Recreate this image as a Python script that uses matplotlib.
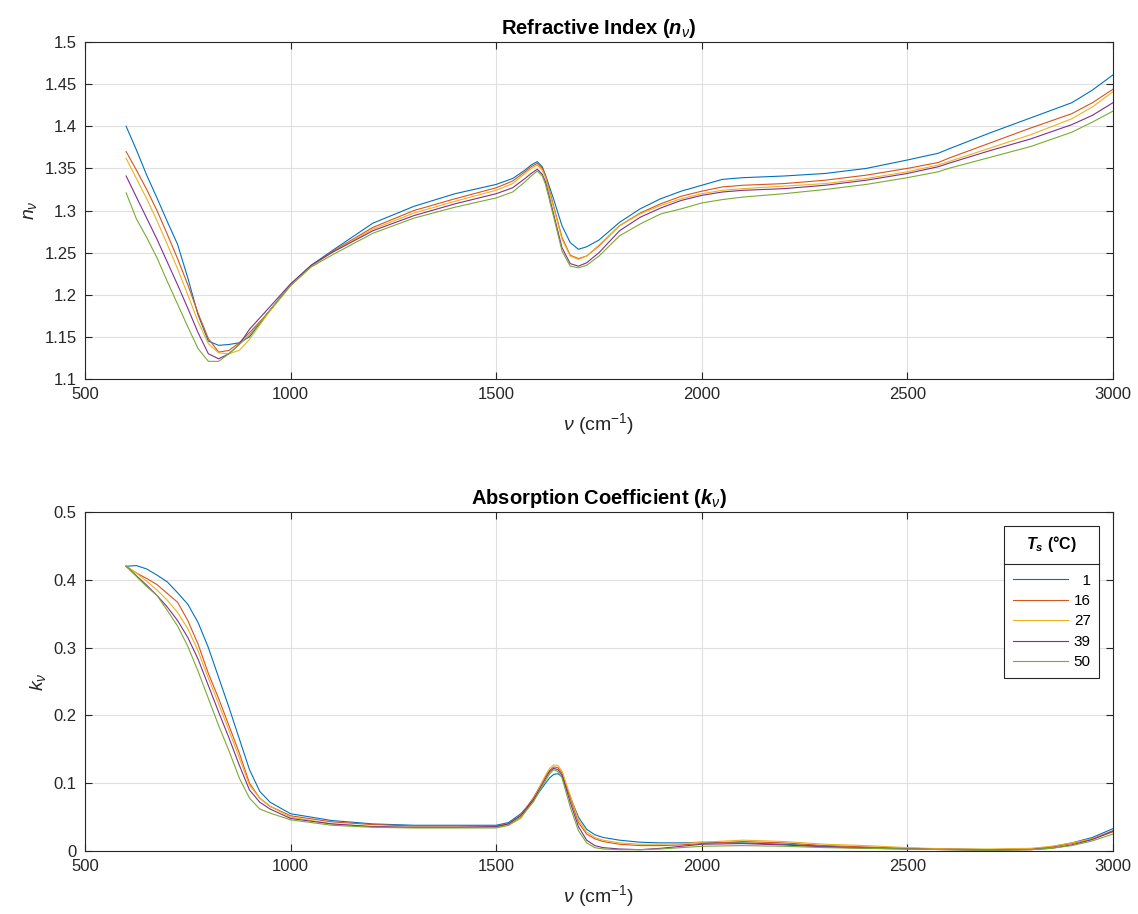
"""Refractive index and absorption coefficient spectra at several temperatures."""

import matplotlib
matplotlib.use('Agg')
import matplotlib.pyplot as plt
from matplotlib.lines import Line2D
from matplotlib.ticker import FuncFormatter


TEMPS = ['1', '16', '27', '39', '50']
COLORS = ['#0072BD', '#D95319', '#EDB120', '#7E2F8E', '#77AC30']

# refractive index
N_WAVENUM = [600, 625, 650, 675, 700, 725, 750, 775, 800, 825, 850, 875, 900,
             950, 1000, 1050, 1100, 1200, 1300, 1400, 1500, 1540, 1570, 1585,
             1600, 1612, 1620, 1640, 1660, 1680, 1700, 1720, 1750, 1800, 1850,
             1900, 1950, 2000, 2050, 2100, 2200, 2300, 2400, 2500, 2575, 2600,
             2700, 2800, 2900, 2950, 3000]
N_1 = [1.400, 1.372, 1.342, 1.315, 1.287, 1.260, 1.220, 1.176, 1.145, 1.140,
       1.141, 1.143, 1.150, 1.182, 1.212, 1.235, 1.252, 1.285, 1.305, 1.320,
       1.331, 1.338, 1.348, 1.354, 1.358, 1.352, 1.342, 1.313, 1.282, 1.262,
       1.254, 1.257, 1.265, 1.286, 1.302, 1.314, 1.323, 1.330, 1.337, 1.339,
       1.341, 1.344, 1.350, 1.360, 1.368, 1.373, 1.392, 1.410, 1.428, 1.443,
       1.461]
N_16 = [1.370, 1.348, 1.325, 1.300, 1.272, 1.243, 1.212, 1.178, 1.148, 1.132,
        1.134, 1.143, 1.155, 1.181, 1.211, 1.234, 1.251, 1.280, 1.300, 1.314,
        1.327, 1.335, 1.346, 1.352, 1.356, 1.350, 1.341, 1.305, 1.268, 1.247,
        1.243, 1.246, 1.258, 1.282, 1.297, 1.308, 1.317, 1.323, 1.328, 1.330,
        1.332, 1.336, 1.342, 1.350, 1.357, 1.362, 1.380, 1.398, 1.415, 1.428,
        1.444]
N_27 = [1.362, 1.338, 1.314, 1.288, 1.260, 1.231, 1.200, 1.168, 1.142, 1.131,
        1.130, 1.134, 1.147, 1.181, 1.211, 1.234, 1.250, 1.278, 1.297, 1.311,
        1.324, 1.332, 1.344, 1.350, 1.354, 1.348, 1.339, 1.303, 1.266, 1.246,
        1.242, 1.246, 1.259, 1.282, 1.296, 1.306, 1.314, 1.320, 1.324, 1.326,
        1.329, 1.332, 1.338, 1.346, 1.354, 1.358, 1.374, 1.390, 1.409, 1.423,
        1.441]
N_39 = [1.341, 1.316, 1.291, 1.266, 1.239, 1.212, 1.184, 1.155, 1.130, 1.124,
        1.130, 1.141, 1.159, 1.186, 1.213, 1.235, 1.250, 1.276, 1.294, 1.308,
        1.320, 1.327, 1.338, 1.344, 1.349, 1.343, 1.334, 1.295, 1.256, 1.237,
        1.234, 1.238, 1.250, 1.276, 1.292, 1.303, 1.312, 1.318, 1.322, 1.324,
        1.326, 1.330, 1.336, 1.344, 1.352, 1.356, 1.371, 1.385, 1.402, 1.413,
        1.428]
N_50 = [1.321, 1.290, 1.268, 1.244, 1.216, 1.189, 1.162, 1.136, 1.121, 1.121,
        1.130, 1.141, 1.152, 1.182, 1.211, 1.233, 1.247, 1.273, 1.291, 1.304,
        1.315, 1.322, 1.334, 1.341, 1.347, 1.341, 1.331, 1.292, 1.252, 1.234,
        1.232, 1.235, 1.246, 1.270, 1.284, 1.296, 1.302, 1.309, 1.313, 1.316,
        1.320, 1.325, 1.331, 1.339, 1.346, 1.350, 1.363, 1.376, 1.393, 1.405,
        1.418]

# absorption coefficient
K_WAVENUM = [600, 625, 650, 675, 700, 725, 750, 775, 800, 825, 850, 875, 900,
             925, 950, 1000, 1100, 1200, 1300, 1400, 1500, 1530, 1560, 1590,
             1620, 1630, 1640, 1650, 1660, 1680, 1700, 1720, 1740, 1760, 1800,
             1850, 1900, 1950, 2000, 2100, 2200, 2300, 2400, 2500, 2600, 2700,
             2800, 2850, 2900, 2950, 3000]
K_1 = [0.420, 0.421, 0.416, 0.407, 0.397, 0.381, 0.364, 0.337, 0.300, 0.256,
       0.212, 0.166, 0.120, 0.088, 0.072, 0.055, 0.045, 0.040, 0.038, 0.038,
       0.038, 0.042, 0.055, 0.075, 0.100, 0.108, 0.113, 0.114, 0.110, 0.080,
       0.050, 0.032, 0.024, 0.020, 0.016, 0.013, 0.012, 0.012, 0.013, 0.012,
       0.010, 0.007, 0.005, 0.004, 0.003, 0.002, 0.003, 0.006, 0.012, 0.020,
       0.033]
K_16 = [0.420, 0.410, 0.402, 0.393, 0.380, 0.367, 0.340, 0.305, 0.262, 0.225,
        0.185, 0.145, 0.100, 0.078, 0.066, 0.052, 0.043, 0.039, 0.037, 0.037,
        0.037, 0.040, 0.053, 0.078, 0.110, 0.119, 0.124, 0.123, 0.115, 0.078,
        0.042, 0.025, 0.018, 0.014, 0.010, 0.008, 0.008, 0.009, 0.011, 0.014,
        0.012, 0.008, 0.006, 0.004, 0.003, 0.002, 0.003, 0.006, 0.011, 0.018,
        0.030]
K_27 = [0.420, 0.410, 0.398, 0.385, 0.370, 0.352, 0.328, 0.295, 0.255, 0.217,
        0.178, 0.138, 0.097, 0.078, 0.066, 0.050, 0.040, 0.036, 0.035, 0.035,
        0.035, 0.038, 0.048, 0.075, 0.112, 0.122, 0.127, 0.126, 0.118, 0.082,
        0.046, 0.028, 0.020, 0.016, 0.012, 0.010, 0.010, 0.011, 0.013, 0.016,
        0.014, 0.010, 0.008, 0.005, 0.003, 0.003, 0.004, 0.007, 0.012, 0.018,
        0.028]
K_39 = [0.420, 0.406, 0.392, 0.377, 0.360, 0.340, 0.315, 0.283, 0.244, 0.205,
        0.167, 0.127, 0.090, 0.072, 0.062, 0.048, 0.040, 0.036, 0.035, 0.035,
        0.036, 0.040, 0.052, 0.075, 0.107, 0.117, 0.122, 0.120, 0.112, 0.072,
        0.036, 0.016, 0.008, 0.005, 0.003, 0.002, 0.004, 0.007, 0.010, 0.011,
        0.009, 0.006, 0.004, 0.003, 0.002, 0.001, 0.002, 0.004, 0.009, 0.017,
        0.029]
K_50 = [0.420, 0.405, 0.390, 0.377, 0.355, 0.332, 0.302, 0.265, 0.225, 0.185,
        0.148, 0.108, 0.078, 0.062, 0.056, 0.046, 0.038, 0.035, 0.034, 0.034,
        0.034, 0.038, 0.050, 0.072, 0.104, 0.114, 0.120, 0.117, 0.108, 0.065,
        0.030, 0.012, 0.005, 0.003, 0.002, 0.002, 0.003, 0.005, 0.007, 0.008,
        0.007, 0.005, 0.004, 0.003, 0.002, 0.001, 0.002, 0.004, 0.008, 0.015,
        0.025]

X_TICKS = [500, 1000, 1500, 2000, 2500, 3000]
N_TICKS = [1.1, 1.15, 1.2, 1.25, 1.3, 1.35, 1.4, 1.45, 1.5]
K_TICKS = [0, 0.1, 0.2, 0.3, 0.4, 0.5]

_AXIS_COLOR = '#262626'


def _main():
    plt.rcParams['font.family'] = ['Liberation Sans', 'DejaVu Sans']
    plt.rcParams['mathtext.fontset'] = 'custom'
    plt.rcParams['mathtext.rm'] = 'Liberation Sans'
    plt.rcParams['mathtext.it'] = 'Liberation Sans:italic'
    plt.rcParams['mathtext.bf'] = 'Liberation Sans:bold'
    plt.rcParams['mathtext.bfit'] = 'Liberation Sans:italic:bold'

    fig = plt.figure(figsize=(11.38, 9.14), dpi=100)
    ax1 = fig.add_axes([0.0747, 0.5853, 0.9033, 0.3687])
    ax2 = fig.add_axes([0.0747, 0.0689, 0.9033, 0.3709])

    n_series = [N_1, N_16, N_27, N_39, N_50]
    k_series = [K_1, K_16, K_27, K_39, K_50]
    for i, temp in enumerate(TEMPS):
        ax1.plot(N_WAVENUM, n_series[i], color=COLORS[i], lw=0.8)
        label = '  ' + temp if len(temp) == 1 else temp
        ax2.plot(K_WAVENUM, k_series[i], color=COLORS[i], lw=0.8, label=label)

    _style_axes(ax1, N_TICKS, r'$n_\nu$',
                r'Refractive Index ($\mathbfit{n}_{\nu}$)')
    _style_axes(ax2, K_TICKS, r'$k_\nu$',
                r'Absorption Coefficient ($\mathbfit{k}_{\nu}$)')

    leg = ax2.legend(loc='upper right', title=r'$\mathbfit{T_s}$ (°C)',
                     fontsize=11, title_fontsize=11.5, handlelength=3.6,
                     fancybox=False, framealpha=1, edgecolor=_AXIS_COLOR,
                     borderaxespad=0.9, labelspacing=0.42, handletextpad=0.4,
                     borderpad=0.55)
    leg.get_frame().set_linewidth(0.8)
    leg.get_title().set_fontweight('bold')
    leg._legend_box.sep = 14

    # separator line under the legend title, like MATLAB's legend
    fig.canvas.draw()
    inv = fig.transFigure.inverted()
    box = leg.get_window_extent()
    tbox = leg.get_title().get_window_extent()
    first = leg.get_texts()[0].get_window_extent()
    y_sep = 0.5 * (tbox.y0 + first.y1) / fig.bbox.height
    x0 = inv.transform((box.x0, 0))[0]
    x1 = inv.transform((box.x1, 0))[0]
    fig.add_artist(Line2D([x0, x1], [y_sep, y_sep], color=_AXIS_COLOR,
                          lw=0.8, zorder=10))

    fig.savefig('out.png', dpi=100)


def _style_axes(ax, yticks, ylabel, title):
    ax.set_xlim(500, 3000)
    ax.set_ylim(yticks[0], yticks[-1])
    ax.set_xticks(X_TICKS)
    ax.set_yticks(yticks)
    fmt = FuncFormatter(lambda v, pos: '%g' % v)
    ax.xaxis.set_major_formatter(fmt)
    ax.yaxis.set_major_formatter(fmt)
    ax.tick_params(direction='in', length=5, width=0.8, labelsize=12,
                   colors=_AXIS_COLOR, top=True, right=True, pad=6)
    for spine in ax.spines.values():
        spine.set_color(_AXIS_COLOR)
        spine.set_linewidth(0.8)
    ax.grid(True, color='#dfdfdf', lw=0.8)
    ax.set_axisbelow(True)
    ax.set_xlabel(r'$\nu$ (cm$^{-1}$)', fontsize=14, color=_AXIS_COLOR,
                  labelpad=6)
    ax.set_ylabel(ylabel, fontsize=14, color=_AXIS_COLOR)
    ax.set_title(title, fontsize=14.5, fontweight='bold', pad=6)


if __name__ == '__main__':
    _main()
